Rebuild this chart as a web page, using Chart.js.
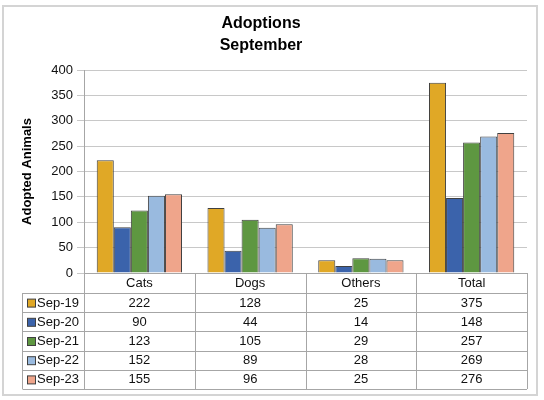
<!DOCTYPE html>
<html>
<head>
<meta charset="utf-8">
<script src="https://cdn.jsdelivr.net/npm/chart.js@4.4.0/dist/chart.umd.min.js"></script>
<style>
  html, body { margin: 0; padding: 0; background: #fff; }
  #wrap { position: relative; width: 544px; height: 400px; }
</style>
</head>
<body>
<div id="wrap"><canvas id="adoptChart" width="544" height="400"></canvas></div>
<script>
const categories = ["Cats", "Dogs", "Others", "Total"];
const seriesNames = ["Sep-19", "Sep-20", "Sep-21", "Sep-22", "Sep-23"];
const sep19 = [222, 128, 25, 375];
const sep20 = [90, 44, 14, 148];
const sep21 = [123, 105, 29, 257];
const sep22 = [152, 89, 28, 269];
const sep23 = [155, 96, 25, 276];
const seriesColors = ["#E0A826", "#3B63AB", "#5E9741", "#99BADF", "#EFA58B"];
const titleLines = ["Adoptions", "September"];

const allSeries = [sep19, sep20, sep21, sep22, sep23];
const rowHeight = 19.2;
const lineColor = "#a6a6a6";
const textFont = "13px 'Liberation Sans', Arial, sans-serif";

// title (centred a bit left of the canvas, like the original) + data table
const dataTable = {
  id: "dataTable",
  afterDraw(chart) {
    const ctx = chart.ctx;
    const area = chart.chartArea;
    const x = chart.scales.x;
    const colW = (area.right - area.left) / categories.length;
    const headTop = area.bottom;
    const headBottom = x.bottom;
    const tableLeft = 22.5;
    const tableBottom = headBottom + rowHeight * seriesNames.length;

    ctx.save();
    ctx.fillStyle = "#000";
    ctx.font = "bold 16px 'Liberation Sans', Arial, sans-serif";
    ctx.textAlign = "center";
    ctx.textBaseline = "middle";
    titleLines.forEach((t, i) => ctx.fillText(t, 261, 24 + i * 21.5));

    ctx.strokeStyle = lineColor;
    ctx.lineWidth = 1;
    ctx.beginPath();
    // vertical lines
    for (let i = 0; i <= categories.length; i++) {
      const px = Math.round(area.left + colW * i) + 0.5;
      ctx.moveTo(px, headTop);
      ctx.lineTo(px, tableBottom);
    }
    ctx.moveTo(tableLeft, headBottom);
    ctx.lineTo(tableLeft, tableBottom);
    // horizontal lines
    for (let r = 0; r <= seriesNames.length; r++) {
      const py = Math.round(headBottom + rowHeight * r) + 0.5;
      ctx.moveTo(tableLeft, py);
      ctx.lineTo(area.right, py);
    }
    ctx.stroke();

    ctx.font = textFont;
    seriesNames.forEach((name, r) => {
      const cy = headBottom + rowHeight * r + rowHeight / 2 + 0.5;
      // legend key
      ctx.fillStyle = seriesColors[r];
      ctx.fillRect(27.5, cy - 4, 8, 8);
      ctx.strokeStyle = "#404040";
      ctx.strokeRect(27.5, cy - 4, 8, 8);
      ctx.fillStyle = "#111";
      ctx.textAlign = "left";
      ctx.fillText(name, 37, cy);
      ctx.textAlign = "center";
      allSeries[r].forEach((v, i) => {
        ctx.fillText(String(v), x.getPixelForValue(i), cy);
      });
    });

    // outer frame
    ctx.strokeStyle = "#d4d4d4";
    ctx.lineWidth = 2;
    ctx.strokeRect(3, 6, 534, 389);
    ctx.restore();
  }
};

new Chart("adoptChart", {
  type: "bar",
  data: {
    labels: categories,
    datasets: seriesNames.map((name, i) => ({
      label: name,
      data: allSeries[i],
      backgroundColor: seriesColors[i],
      borderColor: "#404040",
      borderWidth: 1,
      categoryPercentage: 0.77,
      barPercentage: 1
    }))
  },
  options: {
    responsive: false,
    animation: false,
    layout: { padding: { left: 14, right: 17, top: 70, bottom: 107 } },
    plugins: {
      legend: { display: false },
      tooltip: { enabled: false },
      title: { display: false }
    },
    scales: {
      x: {
        grid: { display: false, drawTicks: false, tickLength: 0 },
        border: { color: lineColor },
        ticks: {
          color: "#111",
          padding: 3,
          font: { family: "'Liberation Sans', Arial, sans-serif", size: 13 }
        },
        afterFit(scale) { scale.height = 20; }
      },
      y: {
        min: 0,
        max: 400,
        grid: { color: "#c8c8c8", tickLength: 7 },
        border: { color: lineColor },
        ticks: {
          stepSize: 50,
          color: "#111",
          padding: 4,
          font: { family: "'Liberation Sans', Arial, sans-serif", size: 13 }
        },
        title: {
          display: true,
          text: "Adopted Animals",
          color: "#000",
          padding: { top: 6, bottom: 0 },
          font: { family: "'Liberation Sans', Arial, sans-serif", size: 13, weight: "bold" }
        },
        afterFit(scale) { scale.width = 70; }
      }
    }
  },
  plugins: [dataTable]
});
</script>
</body>
</html>
